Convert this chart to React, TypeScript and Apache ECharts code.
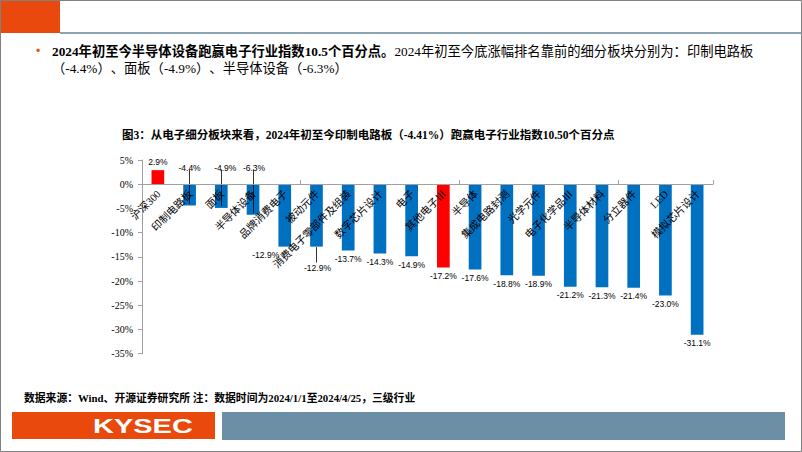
import React, { useEffect, useRef } from "react";
import * as echarts from "echarts";

const categories = [
  "沪深300", "印制电路板", "面板", "半导体设备", "品牌消费电子", "被动元件",
  "消费电子零部件及组装", "数字芯片设计", "电子", "其他电子Ⅲ", "半导体", "集成电路封测",
  "光学元件", "电子化学品Ⅲ", "半导体材料", "分立器件", "LED", "模拟芯片设计",
];
const values = [
  2.9, -4.4, -4.9, -6.3, -12.9, -12.9, -13.7, -14.3, -14.9, -17.2, -17.6, -18.8,
  -18.9, -21.2, -21.3, -21.4, -23.0, -31.1,
];
const highlighted = ["沪深300", "其他电子Ⅲ"];
const yMin = -35;
const yMax = 5;
const yStep = 5;

const headline1Bold = "2024年初至今半导体设备跑赢电子行业指数10.5个百分点。";
const headline1Rest = "2024年初至今底涨幅排名靠前的细分板块分别为：印制电路板";
const headline2 = "（-4.4%）、面板（-4.9%）、半导体设备（-6.3%）";
const chartTitle = "图3：从电子细分板块来看，2024年初至今印制电路板（-4.41%）跑赢电子行业指数10.50个百分点";
const sourceNote = "数据来源：Wind、开源证券研究所 注：数据时间为2024/1/1至2024/4/25，三级行业";
const brand = "KYSEC";

const BLUE = "#0070C0";
const RED = "#FF0000";
const ORANGE = "#E9490C";
const SERIF = "'Liberation Serif', 'Noto Sans CJK SC', serif";
const SANS = "'Liberation Sans', Arial, sans-serif";

// label adjustments (layout only)
const labelTweaks: Record<number, any> = {
  1: { position: "top", offset: [0, -8] },
  2: { position: "top", offset: [4, -8] },
  3: { position: "top", offset: [1, -8] },
  4: { offset: [-19, 0] },
  5: { offset: [1, 13] },
};
const leaderUp = [1, 2, 3];
const leaderDown = [5];

export default function App() {
  const ref = useRef<HTMLDivElement>(null);
  useEffect(() => {
    document.body.style.margin = "0";
    const chart = echarts.init(ref.current!, undefined, { renderer: "svg" });
    const data = values.map((v, i) => ({
      value: v,
      itemStyle: { color: highlighted.includes(categories[i]) ? RED : BLUE },
      label: { position: v >= 0 ? "top" : "bottom", ...(labelTweaks[i] || {}) },
    }));
    const leaderData: any[] = [];
    leaderUp.forEach((i) => {
      leaderData.push([{ coord: [categories[i], 3.0] }, { coord: [categories[i], values[i] + 0.4] }]);
    });
    leaderDown.forEach((i) => {
      leaderData.push([{ coord: [categories[i], values[i] - 0.1] }, { coord: [categories[i], values[i] - 3.3] }]);
    });

    chart.setOption({
      animation: false,
      backgroundColor: "#ffffff",
      grid: { left: 142, right: 89, top: 160, bottom: 98.4, containLabel: false },
      xAxis: {
        type: "category",
        data: categories,
        z: 10,
        axisLine: { onZero: true, lineStyle: { color: "#A0A0A0", width: 1 } },
        axisTick: { show: true, inside: true, length: 4, lineStyle: { color: "#A0A0A0" } },
        axisLabel: { show: false },
      },
      yAxis: {
        type: "value",
        min: yMin,
        max: yMax,
        interval: yStep,
        axisLine: { show: true, lineStyle: { color: "#A0A0A0", width: 1 } },
        axisTick: { show: true, length: 4, lineStyle: { color: "#A0A0A0" } },
        splitLine: { show: false },
        axisLabel: {
          margin: 9,
          fontSize: 10,
          color: "#000",
          fontFamily: SERIF,
          formatter: "{value}%",
        },
      },
      series: [
        {
          type: "bar",
          data,
          barWidth: "40%",
          label: {
            show: true,
            distance: 4,
            fontSize: 8.5,
            color: "#000",
            fontFamily: SANS,
            formatter: (p: any) => p.value.toFixed(1) + "%",
          },
          markLine: {
            silent: true,
            symbol: "none",
            label: { show: false },
            lineStyle: { color: "#000", width: 0.8, type: "solid" },
            data: leaderData,
          },
        },
        {
          type: "custom",
          z: 5,
          silent: true,
          data: categories.map((c, i) => [i, 0]),
          renderItem: (params: any, api: any) => {
            const idx = api.value(0);
            const p = api.coord([idx, api.value(1)]);
            return {
              type: "text",
              x: p[0] + 1,
              y: p[1] + 8,
              rotation: Math.PI / 4,
              style: {
                text: categories[idx],
                align: "right",
                verticalAlign: "middle",
                font: `10.5px ${SERIF}`,
                fill: "#000",
              },
            };
          },
        },
      ],
      graphic: [
        { type: "rect", shape: { x: 0.5, y: 0.5, width: 801, height: 451 }, style: { fill: "none", stroke: "#808080", lineWidth: 1 }, z: 100 },
        { type: "rect", shape: { x: 0, y: 0, width: 60, height: 33 }, style: { fill: ORANGE } },
        { type: "line", shape: { x1: 60, y1: 33, x2: 801, y2: 33 }, style: { stroke: "#8AA3B5", lineWidth: 2 } },
        { type: "text", x: 36, y: 51, style: { text: "•", fill: "#E0502A", font: `12px ${SANS}`, verticalAlign: "middle" } },
        {
          type: "text",
          x: 52,
          y: 51,
          style: {
            text: `{b|${headline1Bold}}{n|${headline1Rest}}`,
            verticalAlign: "middle",
            fill: "#000",
            rich: {
              b: { fontSize: 13.3, fontWeight: "bold", fontFamily: SERIF, fill: "#000" },
              n: { fontSize: 13.3, fontFamily: SERIF, fill: "#000" },
            },
          },
        },
        { type: "text", x: 52, y: 68, style: { text: headline2, fill: "#000", font: `13.3px ${SERIF}`, verticalAlign: "middle" } },
        { type: "text", x: 122, y: 135, style: { text: chartTitle, fill: "#000", font: `bold 11.5px ${SERIF}`, verticalAlign: "middle" } },
        { type: "text", x: 24, y: 398, style: { text: sourceNote, fill: "#000", font: `bold 10.8px ${SERIF}`, verticalAlign: "middle" } },
        { type: "rect", shape: { x: 12, y: 412, width: 203, height: 27 }, style: { fill: ORANGE } },
        { type: "text", x: 93, y: 426, scaleX: 1.45, style: { text: brand, fill: "#fff", font: `bold 20px ${SANS}`, verticalAlign: "middle" } },
        { type: "rect", shape: { x: 222, y: 412, width: 563, height: 28 }, style: { fill: "#6C8FA5" } },
      ],
    });
    return () => chart.dispose();
  }, []);
  return (
    <div
      ref={ref}
      style={{ position: "absolute", left: 0, top: 0, width: 802, height: 452, textSpacingTrim: "space-all" } as any}
    />
  );
}
